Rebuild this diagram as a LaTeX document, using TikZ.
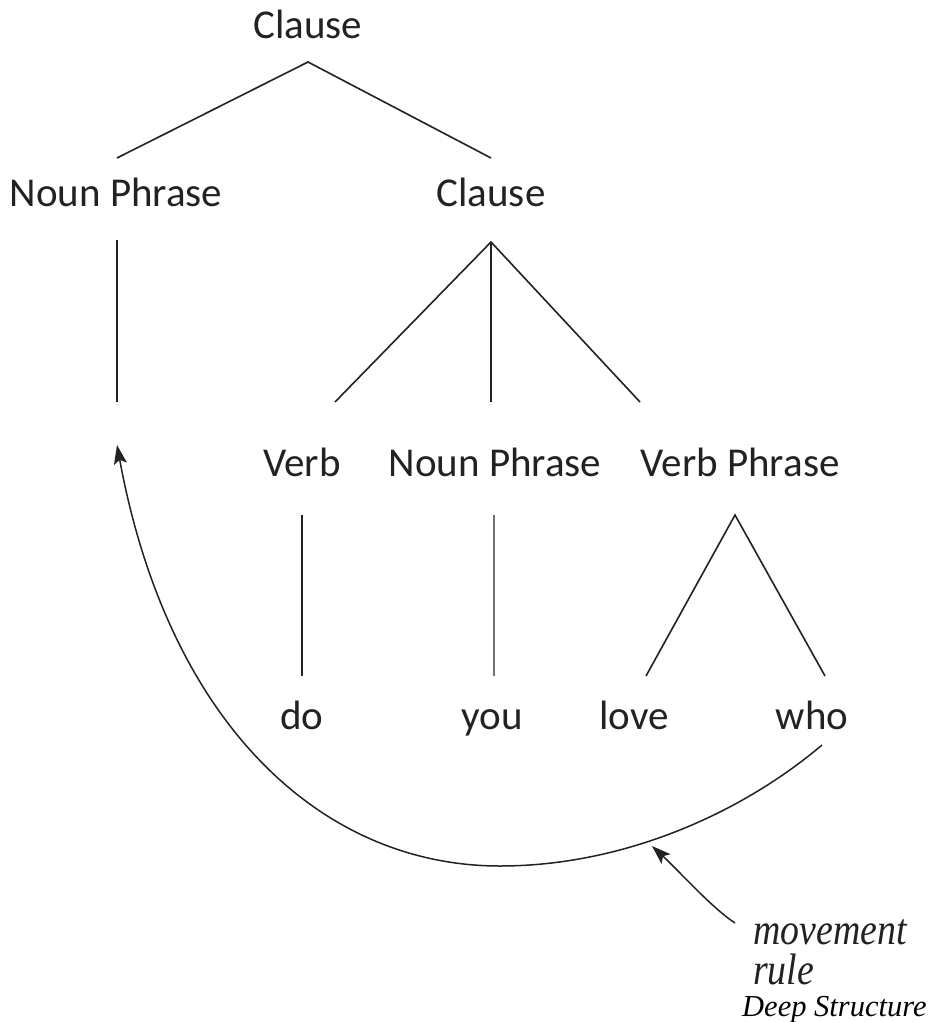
\documentclass[tikz,border=0pt]{standalone}
\usepackage{fontspec}
\usepackage{graphicx}
\setmainfont{Carlito}
\newfontfamily\serifit{Liberation Serif}
\usetikzlibrary{arrows.meta}
\definecolor{ink}{HTML}{222222}
\definecolor{lightink}{HTML}{707070}
\begin{document}
\begin{tikzpicture}[x=1pt,y=-1pt,
 lbl/.style={anchor=base,inner sep=0pt,text=ink,font=\fontsize{41}{48}\selectfont},
 edge/.style={draw=ink,line width=1.6pt},
 ann/.style={anchor=base west,inner sep=0pt,text=ink,font=\serifit\itshape\fontsize{44}{50}\selectfont},
 arr/.style={draw=ink,line width=1.5pt,-{Stealth[length=19pt,width=13pt,inset=4pt]}}]
\useasboundingbox[fill=white] (0,0) rectangle (932,1022);

% labels
\node[lbl] (cl0) at (308,39) {Clause};
\node[lbl] (np1) at (116,206) {Noun Phrase};
\node[lbl] (cl1) at (491,206) {Clause};
\node[lbl] (vb)  at (302,476) {Verb};
\node[lbl] (np2) at (495,476) {Noun Phrase};
\node[lbl] (vp)  at (740,476) {Verb Phrase};
\node[lbl] (do)  at (302,729) {do};
\node[lbl] (you) at (492,729) {you};
\node[lbl] (love) at (634,729) {love};
\node[lbl] (who) at (812,729) {who};

\node[ann] (mv) at (753,944) {\scalebox{0.86}[1]{movement}};
\node[ann] (rl) at (753,984) {\scalebox{0.86}[1]{rule}};
\node[anchor=base west,inner sep=0pt,font=\serifit\itshape\fontsize{30.5}{36}\selectfont] (ds) at (742,1016) {Deep Structure};

% connector end points
\coordinate (cl0b) at (308,62);
\coordinate (np1t) at (117,158);
\coordinate (cl1t) at (491,158);
\coordinate (np1b) at (117,240);
\coordinate (gap)  at (117,402);
\coordinate (cl1b) at (491,242);
\coordinate (vbt)  at (335,402);
\coordinate (np2t) at (491,402);
\coordinate (vpt)  at (640,402);
\coordinate (vbb)  at (302,515);
\coordinate (dot)  at (302,676);
\coordinate (np2b) at (494,515);
\coordinate (yout) at (494,676);
\coordinate (vpb)  at (735,515);
\coordinate (lovet) at (646,676);
\coordinate (whot) at (825,676);
\coordinate (whob) at (822,745);
\coordinate (low)  at (500,866);
\coordinate (tip)  at (117,445);
\coordinate (mvtail) at (735,923);
\coordinate (mvtip)  at (652,846);

% tree edges
\draw[edge] (np1t) -- (cl0b) -- (cl1t);
\draw[edge] (np1b) -- (gap);
\draw[edge] (vbt) -- (cl1b) -- (vpt);
\draw[edge] (cl1b) -- (np2t);
\draw[edge] (vbb) -- (dot);
\draw[edge,draw=lightink] (np2b) -- (yout);
\draw[edge] (lovet) -- (vpb) -- (whot);

% movement arc
\draw[arr] (whob) .. controls (738,816) and (620,866) .. (low)
  .. controls (320,866) and (168,722) .. (tip);
\draw[arr] (mvtail) .. controls (712,908) and (680,872) .. (mvtip);
\end{tikzpicture}
\end{document}
